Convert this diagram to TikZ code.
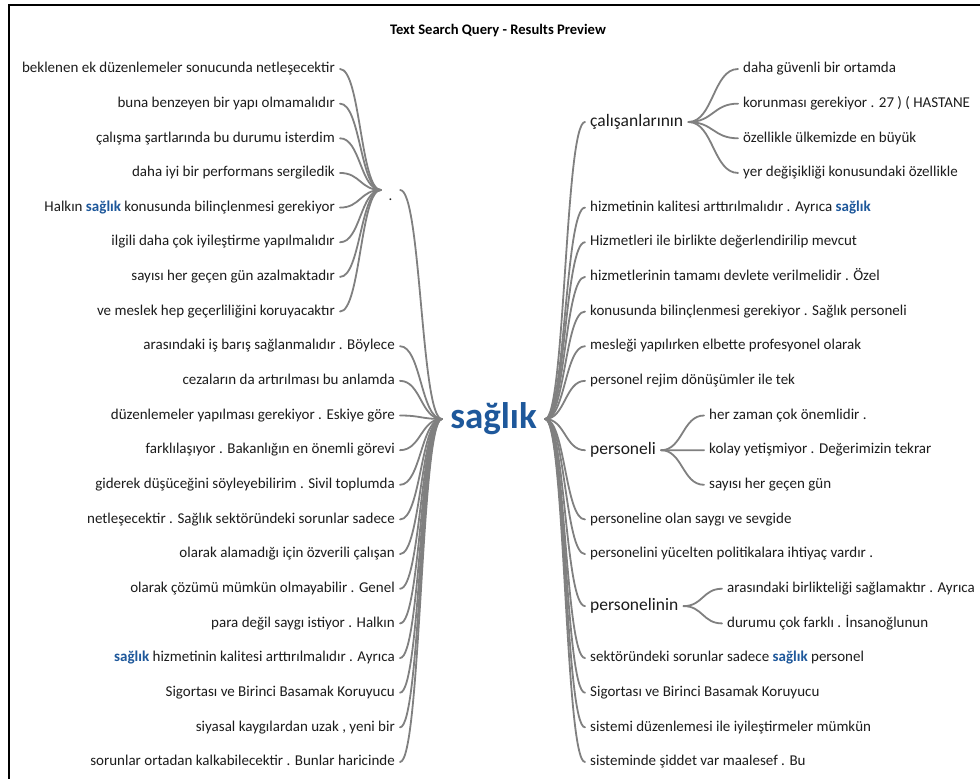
\documentclass[tikz,border=0pt]{standalone}
\usepackage{fontspec}
\setmainfont{Carlito}
\usetikzlibrary{calc}
\definecolor{sblue}{RGB}{30,88,155}
\definecolor{linkgray}{RGB}{128,128,128}
\definecolor{ink}{RGB}{28,28,28}
\newcommand{\kw}[1]{\textcolor{sblue}{\textbf{#1}}}
\tikzset{
  word/.style={inner ysep=0pt, text=ink, font=\fontsize{15}{18}\selectfont,
    text height=11.2pt, text depth=3.8pt},
  leafL/.style={word, anchor=east, inner xsep=5pt},
  leafR/.style={word, anchor=west, inner xsep=5pt},
  midword/.style={word, anchor=west, inner xsep=5pt,
    font=\fontsize{17.5}{21}\selectfont, text height=13pt, text depth=4.4pt},
  rootword/.style={inner xsep=8.2pt, inner ysep=0pt, text=sblue,
    font=\fontsize{37}{44}\selectfont\bfseries, text height=27.7pt, text depth=9.2pt},
  dotword/.style={inner xsep=7.6pt, inner ysep=0pt, text=ink,
    font=\fontsize{15}{18}\selectfont, text height=20pt, text depth=0pt},
  twig/.style={draw=linkgray, line width=1.8pt, line cap=round,
    to path={.. controls ($(\tikztostart)!0.5!(\tikztotarget |- \tikztostart)$)
      and ($(\tikztostart |- \tikztotarget)!0.5!(\tikztotarget)$) .. (\tikztotarget)}},
  frame/.style={draw=black, line width=1.6pt},
  heading/.style={font=\fontsize{14.6}{17}\selectfont\bfseries, text=black}
}
\begin{document}
\begin{tikzpicture}[x=1pt,y=-1pt]
  \useasboundingbox (0,0) rectangle (980,779);
  \clip (0,0) rectangle (980,779);
  \fill[white] (0,0) rectangle (980,779);
  \draw[frame] (9,5) rectangle (1000,800);

  \node[heading] (title) at (498,31) {Text Search Query - Results Preview};

  % root word and the period branch
  \node[rootword] (root) at (493.5,419) {sağlık};
  \node[dotword] (dot) at (390.5,190) {.};
  \draw[twig] (dot.east) to (root.west);

  % phrases that end in the period branch
  \foreach \t [count=\i from 0] in {
      {beklenen ek düzenlemeler sonucunda netleşecektir},
      {buna benzeyen bir yapı olmamalıdır},
      {çalışma şartlarında bu durumu isterdim},
      {daha iyi bir performans sergiledik},
      {Halkın \kw{sağlık} konusunda bilinçlenmesi gerekiyor},
      {ilgili daha çok iyileştirme yapılmalıdır},
      {sayısı her geçen gün azalmaktadır},
      {ve meslek hep geçerliliğini koruyacaktır}} {
    \node[leafL] (p\i) at (340,{69+34.65*\i}) {\t};
    \draw[twig] (p\i.east) to (dot.west);
  }

  % phrases that precede the root directly
  \foreach \t [count=\i from 8] in {
      {arasındaki iş barış sağlanmalıdır . Böylece},
      {cezaların da artırılması bu anlamda},
      {düzenlemeler yapılması gerekiyor . Eskiye göre},
      {farklılaşıyor . Bakanlığın en önemli görevi},
      {giderek düşüceğini söyleyebilirim . Sivil toplumda},
      {netleşecektir . Sağlık sektöründeki sorunlar sadece},
      {olarak alamadığı için özverili çalışan},
      {olarak çözümü mümkün olmayabilir . Genel},
      {para değil saygı istiyor . Halkın},
      {\kw{sağlık} hizmetinin kalitesi arttırılmalıdır . Ayrıca},
      {Sigortası ve Birinci Basamak Koruyucu},
      {siyasal kaygılardan uzak , yeni bir},
      {sorunlar ortadan kalkabilecektir . Bunlar haricinde}} {
    \node[leafL] (q\i) at (400,{69+34.65*\i}) {\t};
    \draw[twig] (q\i.east) to (root.west);
  }

  % right side: branch words
  \node[midword] (calis) at (585,122) {çalışanlarının};
  \node[midword] (pers) at (585,450.2) {personeli};
  \node[midword] (persin) at (585,606.1) {personelinin};
  \foreach \n in {calis,pers,persin} \draw[twig] (root.east) to (\n.west);

  \foreach \t [count=\i from 0] in {
      {daha güvenli bir ortamda},
      {korunması gerekiyor . 27 ) ( HASTANE},
      {özellikle ülkemizde en büyük},
      {yer değişikliği konusundaki özellikle}} {
    \node[leafR] (c\i) at (738,{69+34.65*\i}) {\t};
    \draw[twig] (calis.east) to (c\i.west);
  }

  \foreach \t [count=\i from 10] in {
      {her zaman çok önemlidir .},
      {kolay yetişmiyor . Değerimizin tekrar},
      {sayısı her geçen gün}} {
    \node[leafR] (e\i) at (704,{69+34.65*\i}) {\t};
    \draw[twig] (pers.east) to (e\i.west);
  }

  \foreach \t [count=\i from 15] in {
      {arasındaki birlikteliği sağlamaktır . Ayrıca},
      {durumu çok farklı . İnsanoğlunun}} {
    \node[leafR] (g\i) at (722,{69+34.65*\i}) {\t};
    \draw[twig] (persin.east) to (g\i.west);
  }

  % right side: phrases that follow the root directly
  \foreach \t/\i in {
      {hizmetinin kalitesi arttırılmalıdır . Ayrıca \kw{sağlık}}/4,
      {Hizmetleri ile birlikte değerlendirilip mevcut}/5,
      {hizmetlerinin tamamı devlete verilmelidir . Özel}/6,
      {konusunda bilinçlenmesi gerekiyor . Sağlık personeli}/7,
      {mesleği yapılırken elbette profesyonel olarak}/8,
      {personel rejim dönüşümler ile tek}/9,
      {personeline olan saygı ve sevgide}/13,
      {personelini yücelten politikalara ihtiyaç vardır .}/14,
      {sektöründeki sorunlar sadece \kw{sağlık} personel}/17,
      {Sigortası ve Birinci Basamak Koruyucu}/18,
      {sistemi düzenlemesi ile iyileştirmeler mümkün}/19,
      {sisteminde şiddet var maalesef . Bu}/20} {
    \node[leafR] (r\i) at (585,{69+34.65*\i}) {\t};
    \draw[twig] (root.east) to (r\i.west);
  }
\end{tikzpicture}
\end{document}
